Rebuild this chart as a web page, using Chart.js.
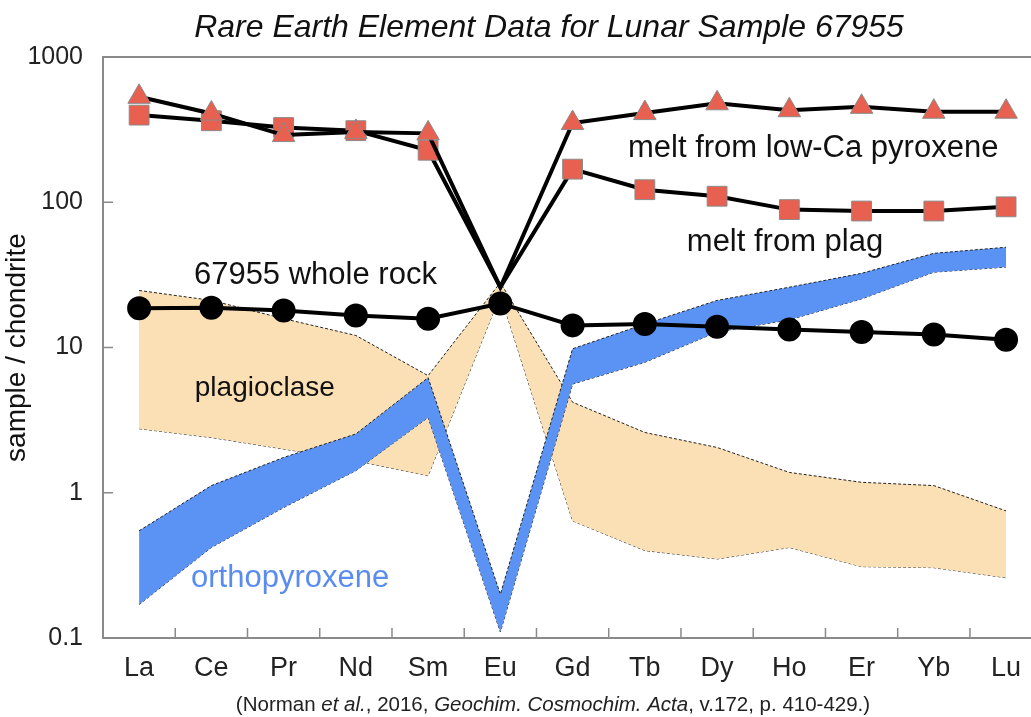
<!DOCTYPE html>
<html>
<head>
<meta charset="utf-8">
<script src="https://cdn.jsdelivr.net/npm/chart.js@4.4.1/dist/chart.umd.min.js"></script>
<style>
  html, body { margin: 0; padding: 0; background: #fff; overflow: hidden; }
  #reeChart { display: block; }
</style>
</head>
<body>
<canvas id="reeChart" width="1031" height="717"></canvas>
<script>
// REE, chondrite-normalised
const categories = ["La", "Ce", "Pr", "Nd", "Sm", "Eu", "Gd", "Tb", "Dy", "Ho", "Er", "Yb", "Lu"];
const yTicks = [0.1, 1, 10, 100, 1000];

const wholeRock = [18.6, 18.8, 18.0, 16.6, 15.8, 20.1, 14.2, 14.5, 13.9, 13.3, 12.8, 12.3, 11.3];
const meltLowCaPx = [532, 408, 290, 305, 298, 26, 351, 411, 480, 430, 454, 420, 420];
const meltPlag = [398, 364, 327, 311, 228, 26, 169, 122, 110, 89, 87, 87, 93];

const plagUpper = [24.7, 21.1, 15.8, 12.1, 6.4, 28, 4.2, 2.6, 2.05, 1.38, 1.18, 1.12, 0.75];
const plagLower = [2.76, 2.4, 2.0, 1.66, 1.31, 23, 0.64, 0.40, 0.35, 0.42, 0.31, 0.305, 0.26];

const opxUpper = [0.547, 1.12, 1.75, 2.54, 6.2, 0.20, 9.8, 14.5, 21.1, 26, 32.4, 44.5, 49];
const opxLower = [0.17, 0.42, 0.79, 1.42, 3.3, 0.11, 5.6, 7.9, 12.8, 15.5, 21.6, 33, 35.8];

const toPoints = (arr) => arr.map((v, i) => ({ x: i, y: v }));

const TAN = "#fae0b4";
const BLUE = "#5b93f4";
const RED = "#e8604f";
const AXIS = "#8a8a8a";
const SANS = "'Liberation Sans', Arial, Helvetica, sans-serif";

// text placed on the plot (x = category index, y = data value)
const labels = [
  { text: "melt from low-Ca pyroxene", x: 9.33, y: 235, size: 31, color: "#111" },
  { text: "melt from plag", x: 8.94, y: 53, size: 31, color: "#111" },
  { text: "67955 whole rock", x: 2.44, y: 31.4, size: 31, color: "#111" },
  { text: "plagioclase", x: 1.74, y: 5.2, size: 28, color: "#111" },
  { text: "orthopyroxene", x: 2.09, y: 0.255, size: 31, color: "#5a8cf0" },
];

const footerParts = [
  ["(Norman ", false],
  ["et al.", true],
  [", 2016, ", false],
  ["Geochim. Cosmochim. Acta", true],
  [", v.172, p. 410-429.)", false],
];

// frame, inner tick marks, title, labels and source line
const decorPlugin = {
  id: "decor",
  afterDraw(chart) {
    const { ctx, chartArea: ca, scales } = chart;
    const x = scales.x;
    const y = scales.y;
    ctx.save();

    // top frame line
    ctx.strokeStyle = AXIS;
    ctx.lineWidth = 2;
    ctx.beginPath();
    ctx.moveTo(ca.left, ca.top);
    ctx.lineTo(chart.width, ca.top);
    ctx.stroke();

    // inner ticks
    ctx.lineWidth = 1.5;
    [1, 10, 100].forEach((v) => {
      const py = y.getPixelForValue(v);
      ctx.beginPath();
      ctx.moveTo(ca.left, py);
      ctx.lineTo(ca.left + 10, py);
      ctx.stroke();
    });
    for (let i = 0; i < categories.length - 1; i++) {
      const px = x.getPixelForValue(i + 0.5);
      ctx.beginPath();
      ctx.moveTo(px, ca.bottom);
      ctx.lineTo(px, ca.bottom - 10);
      ctx.stroke();
    }

    // labels on the plot
    ctx.textAlign = "center";
    ctx.textBaseline = "middle";
    labels.forEach((l) => {
      ctx.font = `${l.size}px ${SANS}`;
      ctx.fillStyle = l.color;
      ctx.fillText(l.text, x.getPixelForValue(l.x), y.getPixelForValue(l.y));
    });

    // title
    ctx.font = `italic 32px ${SANS}`;
    ctx.fillStyle = "#111";
    ctx.fillText("Rare Earth Element Data for Lunar Sample 67955", 549, 28);

    // source line with italic parts
    const fSize = 20.5;
    const widths = footerParts.map(([t, it]) => {
      ctx.font = `${it ? "italic " : ""}${fSize}px ${SANS}`;
      return ctx.measureText(t).width;
    });
    let fx = 553 - widths.reduce((a, b) => a + b, 0) / 2;
    ctx.textAlign = "left";
    ctx.fillStyle = "#222";
    footerParts.forEach(([t, it], i) => {
      ctx.font = `${it ? "italic " : ""}${fSize}px ${SANS}`;
      ctx.fillText(t, fx, 705);
      fx += widths[i];
    });

    ctx.restore();
  },
};

const bandStyle = (fillColor) => ({
  backgroundColor: fillColor,
  borderColor: "#222",
  borderWidth: 1,
  borderDash: [3, 2],
  pointRadius: 0,
  tension: 0,
});

const ctx = document.getElementById("reeChart").getContext("2d");
new Chart(ctx, {
  type: "line",
  data: {
    datasets: [
      { label: "plag upper", data: toPoints(plagUpper), fill: "+1", order: 3, ...bandStyle(TAN) },
      { label: "plag lower", data: toPoints(plagLower), fill: false, order: 3, ...bandStyle(TAN) },
      { label: "opx upper", data: toPoints(opxUpper), fill: "+1", order: 2, ...bandStyle(BLUE) },
      { label: "opx lower", data: toPoints(opxLower), fill: false, order: 2, ...bandStyle(BLUE) },
      {
        label: "melt from low-Ca pyroxene",
        data: toPoints(meltLowCaPx),
        order: 1,
        borderColor: "#000",
        borderWidth: 4,
        pointStyle: "triangle",
        pointRadius: (c) => (c.dataIndex === 5 ? 0 : 13),
        pointBackgroundColor: RED,
        pointBorderColor: "#8a8a8a",
        pointBorderWidth: 1,
        fill: false,
      },
      {
        label: "melt from plag",
        data: toPoints(meltPlag),
        order: 1,
        borderColor: "#000",
        borderWidth: 4,
        pointStyle: "rect",
        pointRadius: (c) => (c.dataIndex === 5 ? 0 : 14),
        pointBackgroundColor: RED,
        pointBorderColor: "#8a8a8a",
        pointBorderWidth: 1,
        fill: false,
      },
      {
        label: "67955 whole rock",
        data: toPoints(wholeRock),
        order: 0,
        borderColor: "#000",
        borderWidth: 4,
        pointStyle: "circle",
        pointRadius: 10,
        pointBackgroundColor: "#000",
        pointBorderColor: "#000",
        fill: false,
      },
    ],
  },
  options: {
    responsive: false,
    animation: false,
    layout: { autoPadding: false, padding: { top: 57, left: 0, right: 0, bottom: 0 } },
    plugins: {
      legend: { display: false },
      tooltip: { enabled: false },
    },
    scales: {
      x: {
        type: "linear",
        min: -0.5,
        max: 12.345,
        grid: { display: false, drawTicks: false },
        border: { display: true, color: AXIS, width: 2 },
        afterBuildTicks: (scale) => {
          scale.ticks = categories.map((c, i) => ({ value: i }));
        },
        afterFit: (scale) => {
          scale.height = 79;
          scale.paddingLeft = 0;
          scale.paddingRight = 0;
        },
        ticks: {
          autoSkip: false,
          maxRotation: 0,
          padding: 14,
          color: "#222",
          font: { family: "'Liberation Sans Narrow', 'Arial Narrow', 'Liberation Sans', sans-serif", size: 27 },
          callback: (v) => categories[v],
        },
      },
      y: {
        type: "logarithmic",
        min: 0.1,
        max: 1000,
        grid: { display: false, drawTicks: false },
        border: { display: true, color: AXIS, width: 2 },
        afterBuildTicks: (scale) => {
          scale.ticks = yTicks.map((v) => ({ value: v }));
        },
        afterFit: (scale) => {
          scale.width = 103;
        },
        ticks: {
          padding: 20,
          color: "#222",
          font: { family: SANS, size: 25 },
          callback: (v) => String(v),
        },
        title: {
          display: true,
          text: "sample / chondrite",
          color: "#111",
          font: { family: SANS, size: 28 },
          padding: { top: 0, bottom: 0 },
        },
      },
    },
  },
  plugins: [decorPlugin],
});
</script>
</body>
</html>
